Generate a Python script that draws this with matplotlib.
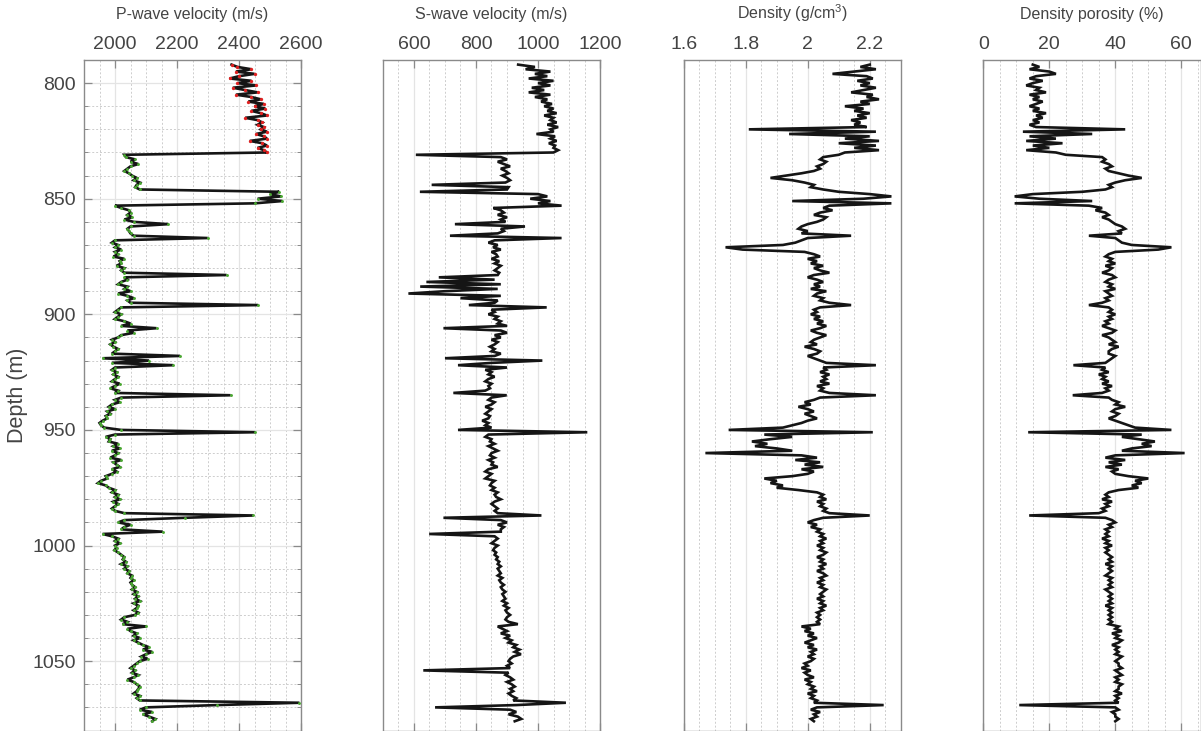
import numpy as np
import matplotlib
matplotlib.use("Agg")
import matplotlib.pyplot as plt
from matplotlib.ticker import MultipleLocator, FixedLocator, FuncFormatter

plt.rcParams['font.family'] = ['Liberation Sans', 'DejaVu Sans']
plt.rcParams['mathtext.default'] = 'regular'

# Well-log samples, one every metre from 792 m to 1076 m
depth = np.arange(792, 1077)

vp = [
    2376, 2395, 2440, 2390, 2450, 2400, 2370, 2440, 2395, 2455,
    2380, 2420, 2460, 2390, 2440, 2470, 2430, 2480, 2450, 2485,
    2440, 2470, 2490, 2420, 2460, 2475, 2460, 2480, 2470, 2490,
    2455, 2480, 2490, 2435, 2475, 2490, 2460, 2480, 2490, 2030,
    2035, 2065, 2050, 2075, 2050, 2040, 2030, 2045, 2055, 2070,
    2060, 2080, 2070, 2065, 2080, 2530, 2500, 2535, 2460, 2540,
    2450, 2000, 2020, 2045, 2050, 2040, 2055, 2030, 2060, 2172,
    2050, 2040, 2045, 2050, 2060, 2299, 2000, 1990, 2010, 2000,
    2020, 2000, 2010, 1995, 2030, 2015, 2020, 2005, 2030, 2020,
    2030, 2360, 2030, 2040, 2020, 2010, 2040, 2030, 2050, 2010,
    2040, 2060, 2040, 2050, 2462, 2020, 2010, 2000, 2020, 2010,
    2000, 2030, 2050, 2020, 2134, 2040, 2060, 2020, 2010, 1990,
    2000, 1985, 1995, 2010, 2000, 1990, 2210, 1960, 2110, 1990,
    2188, 2000, 1990, 2005, 1995, 2010, 2000, 1990, 2015, 2000,
    1985, 2010, 2000, 2373, 2020, 2000, 2015, 1990, 1980, 2000,
    1975, 1985, 1970, 1975, 1960, 1950, 1955, 1965, 2020, 2452,
    2000, 1970, 1985, 1980, 2010, 1995, 2015, 1990, 2010, 2000,
    1985, 2020, 1995, 2005, 2015, 1990, 2005, 1990, 1970, 1975,
    1955, 1945, 1970, 1980, 2000, 1990, 2010, 2000, 2015, 1995,
    2010, 2000, 1990, 2000, 2030, 2446, 2226, 2030, 2010, 2050,
    2030, 2020, 2154, 1960, 1990, 2010, 2000, 2015, 2000, 2005,
    1998, 2010, 2020, 2030, 2025, 2035, 2020, 2040, 2030, 2045,
    2040, 2055, 2050, 2060, 2050, 2055, 2065, 2055, 2070, 2060,
    2075, 2065, 2080, 2060, 2075, 2070, 2060, 2075, 2065, 2030,
    2020, 2040, 2025, 2100, 2040, 2050, 2070, 2060, 2080, 2060,
    2075, 2090, 2110, 2090, 2120, 2100, 2085, 2105, 2080, 2070,
    2060, 2050, 2065, 2055, 2075, 2060, 2040, 2060, 2070, 2080,
    2075, 2070, 2060, 2080, 2070, 2080, 2595, 2330, 2100, 2080,
    2120, 2090, 2110, 2130, 2120,
]

vs = [
    936, 990, 960, 1040, 990, 1030, 970, 1050, 1000, 1040,
    980, 1020, 970, 1040, 990, 1030, 1010, 1045, 1020, 1050,
    1030, 1060, 1020, 1050, 1040, 1060, 1030, 1065, 1040, 1050,
    995, 1055, 1040, 1060, 1035, 1055, 1050, 1065, 1050, 606,
    880, 900, 870, 890, 910, 880, 895, 905, 885, 900,
    910, 895, 657, 905, 900, 619, 1000, 1030, 975, 1040,
    1000, 1076, 856, 880, 890, 870, 900, 880, 895, 732,
    958, 880, 890, 870, 716, 1076, 860, 840, 870, 855,
    880, 850, 865, 870, 850, 875, 860, 880, 870, 860,
    875, 870, 680, 860, 640, 880, 620, 870, 700, 582,
    880, 750, 870, 860, 777, 1028, 850, 860, 840, 870,
    860, 880, 870, 900, 695, 880, 900, 860, 880, 850,
    870, 860, 845, 860, 850, 880, 860, 700, 1014, 850,
    742, 900, 830, 850, 840, 860, 840, 830, 850, 840,
    845, 830, 727, 899, 850, 840, 860, 850, 830, 850,
    840, 830, 845, 840, 820, 840, 830, 850, 742, 1159,
    840, 830, 850, 845, 860, 840, 855, 870, 850, 845,
    860, 840, 855, 850, 870, 840, 830, 850, 840, 830,
    860, 850, 845, 860, 850, 870, 860, 865, 880, 860,
    850, 860, 870, 860, 870, 1011, 695, 880, 900, 870,
    890, 880, 880, 649, 860, 870, 860, 850, 870, 860,
    855, 865, 860, 870, 865, 875, 870, 880, 870, 875,
    880, 870, 885, 875, 880, 890, 880, 885, 895, 885,
    890, 895, 885, 900, 890, 905, 895, 900, 910, 900,
    895, 905, 935, 870, 885, 900, 880, 910, 895, 915,
    905, 930, 920, 940, 925, 945, 920, 910, 905, 915,
    900, 910, 630, 905, 895, 910, 920, 900, 915, 925,
    910, 920, 905, 915, 930, 920, 1090, 930, 668, 910,
    930, 905, 935, 946, 925,
]

rho = [
    2.20, 2.17, 2.22, 2.15, 2.08, 2.19, 2.21, 2.16, 2.20, 2.17,
    2.22, 2.18, 2.14, 2.21, 2.19, 2.23, 2.17, 2.20, 2.12, 2.18,
    2.15, 2.20, 2.16, 2.19, 2.14, 2.17, 2.15, 2.19, 1.81, 2.22,
    1.94, 2.20, 2.12, 2.23, 2.10, 2.22, 2.15, 2.23, 2.12, 2.10,
    2.05, 2.04, 2.06, 2.05, 2.03, 2.04, 2.02, 1.98, 1.93, 1.88,
    1.95, 1.99, 2.02, 2.01, 2.05, 2.10, 2.20, 2.27, 2.18, 1.95,
    2.27, 2.07, 2.05, 2.08, 2.04, 2.02, 2.06, 2.05, 2.03, 2.00,
    1.98, 1.97, 2.00, 1.98, 2.14, 2.00, 1.98, 1.96, 1.92, 1.735,
    1.79, 1.99, 2.02, 2.04, 2.00, 2.03, 2.01, 2.05, 2.02, 2.04,
    2.07, 2.02, 2.00, 2.03, 2.05, 2.02, 2.04, 2.01, 2.06, 2.03,
    2.02, 2.05, 2.04, 2.07, 2.14, 2.04, 2.02, 2.03, 2.01, 2.04,
    2.02, 2.05, 2.03, 2.06, 2.04, 2.01, 2.03, 2.06, 2.04, 2.02,
    2.01, 2.03, 1.99, 2.02, 2.04, 2.03, 2.00, 2.02, 2.04, 2.06,
    2.22, 2.05, 2.06, 2.04, 2.07, 2.05, 2.06, 2.04, 2.07, 2.03,
    2.05, 2.04, 2.07, 2.22, 2.04, 2.02, 1.99, 2.01, 1.97, 2.00,
    2.02, 1.99, 2.01, 2.03, 2.00, 1.98, 1.95, 1.92, 1.745, 2.21,
    1.86, 1.95, 1.88, 1.82, 1.87, 1.83, 1.90, 1.95, 1.67, 1.98,
    2.03, 1.96, 2.04, 1.99, 2.05, 1.98, 2.02, 2.00, 1.95, 1.86,
    1.90, 1.88, 1.92, 1.90, 1.97, 2.03, 2.05, 2.04, 2.06, 2.03,
    2.05, 2.04, 2.06, 2.05, 2.07, 2.20, 2.05, 2.02, 2.00, 2.03,
    2.01, 2.04, 2.03, 2.05, 2.04, 2.06, 2.04, 2.05, 2.03, 2.05,
    2.04, 2.06, 2.05, 2.03, 2.05, 2.04, 2.06, 2.04, 2.05, 2.03,
    2.05, 2.06, 2.04, 2.05, 2.03, 2.05, 2.04, 2.06, 2.05, 2.04,
    2.05, 2.03, 2.05, 2.04, 2.06, 2.04, 2.05, 2.03, 2.04, 2.03,
    2.04, 2.03, 2.04, 1.98, 2.01, 1.99, 2.02, 2.00, 2.03, 2.01,
    1.99, 2.02, 2.00, 2.03, 2.01, 2.02, 2.00, 2.02, 2.01, 1.99,
    2.00, 1.98, 2.01, 1.99, 2.00, 2.02, 1.99, 2.01, 2.00, 2.02,
    2.01, 2.03, 2.00, 2.02, 2.01, 2.03, 2.02, 2.245, 2.03, 2.01,
    2.04, 2.02, 2.03, 2.01, 2.02,
]

phi = [
    15, 17, 14, 20, 22, 16, 14, 18, 15, 13,
    17, 16, 19, 14, 17, 15, 18, 16, 14, 17,
    15, 19, 16, 18, 15, 17, 14, 16, 43, 12,
    33, 14, 22, 13, 24, 15, 20, 13, 22, 25,
    36, 37, 36, 38, 39, 37, 38, 41, 44, 48,
    43, 40, 38, 39, 37, 30, 15, 9.5, 17, 33,
    9.5, 32, 36, 34, 37, 38, 36, 38, 39, 40,
    42, 43, 41, 42, 32, 40, 41, 42, 45, 57,
    53, 40, 38, 37, 39, 38, 40, 37, 39, 38,
    36, 39, 40, 38, 37, 39, 38, 40, 37, 38,
    39, 37, 38, 36, 32, 38, 39, 38, 40, 38,
    39, 37, 38, 36, 38, 40, 39, 36, 38, 39,
    40, 38, 41, 39, 38, 38, 40, 39, 38, 37,
    27.3, 37, 36, 38, 35, 37, 36, 38, 36, 39,
    37, 38, 36, 27.1, 38, 39, 41, 40, 43, 40,
    39, 41, 40, 38, 40, 42, 44, 46, 57, 13.6,
    48, 42, 47, 52, 48, 51, 45, 42, 61, 40,
    37, 43, 38, 42, 37, 41, 39, 40, 44, 50,
    46, 48, 45, 47, 41, 38, 37, 38, 36, 39,
    37, 38, 36, 37, 35, 13.9, 37, 39, 40, 38,
    39, 37, 38, 37, 38, 36, 38, 37, 39, 37,
    38, 37, 38, 39, 38, 39, 37, 39, 38, 39,
    38, 37, 39, 38, 39, 38, 39, 37, 38, 39,
    38, 39, 38, 39, 37, 39, 38, 39, 38, 39,
    38, 39, 38, 41, 40, 42, 39, 41, 40, 42,
    41, 39, 41, 40, 41, 40, 42, 41, 40, 41,
    41, 42, 40, 41, 42, 40, 41, 40, 42, 41,
    41, 40, 42, 40, 41, 40, 41, 10.9, 40, 41,
    39, 40, 40, 41, 40,
]

# Depth of the top interval picked with red markers on the P-wave log
upper_interval_base = 830

titles = ["P-wave velocity (m/s)", "S-wave velocity (m/s)",
          "Density (g/cm$^{3}$)", "Density porosity (%)"]
xlims = [(1900, 2600), (500, 1200), (1.6, 2.3), (0, 66)]
xticks = [[2000, 2200, 2400, 2600], [600, 800, 1000, 1200],
          [1.6, 1.8, 2.0, 2.2], [0, 20, 40, 60]]
xminor = [50, 50, 0.05, 5]
ylim = (1080, 790)
yticks = [800, 850, 900, 950, 1000, 1050]

W, H = 1201, 731
fig = plt.figure(figsize=(W / 100, H / 100), dpi=100)

lefts = [84.0, 383.0, 683.7, 983.3]
rights = [301.0, 600.0, 900.7, 1201.1]
top_px, bottom_px = 60.0, 730.5

spine_col = "#8a8a8a"
text_col = "#444444"
curve_col = "#151515"

series = [vp, vs, rho, phi]
for i in range(4):
    l, r = lefts[i], rights[i]
    ax = fig.add_axes([l / W, 1 - bottom_px / H, (r - l) / W, (bottom_px - top_px) / H])
    ax.set_xlim(*xlims[i])
    ax.set_ylim(*ylim)

    ax.plot(series[i], depth, color=curve_col, lw=1.9, solid_joinstyle="miter", zorder=3)
    if i == 0:
        d = np.asarray(depth)
        v = np.asarray(vp, dtype=float)
        up = d <= upper_interval_base
        ax.plot(v[up], d[up], ls="none", marker="o", ms=2.4, mew=0,
                color="#e02020", zorder=4)
        ax.plot(v[~up], d[~up], ls="none", marker="o", ms=2.1, mew=0,
                color="#4aa832", zorder=4)

    ax.xaxis.set_major_locator(FixedLocator(xticks[i]))
    ax.xaxis.set_minor_locator(MultipleLocator(xminor[i]))
    ax.xaxis.set_major_formatter(FuncFormatter(lambda x, p: "%g" % x))
    ax.xaxis.set_ticks_position("both")
    ax.xaxis.set_label_position("top")
    ax.tick_params(axis="x", which="major", direction="in", length=6, width=0.9,
                   color=spine_col, labeltop=True, labelbottom=False,
                   labelsize=14, labelcolor=text_col, pad=5)
    ax.tick_params(axis="x", which="minor", length=0)
    ax.set_xlabel(titles[i], fontsize=11.5, color=text_col, labelpad=12.5)

    ax.grid(True, axis="x", which="major", color="#e4e4e4", lw=0.9, ls="-", zorder=0)
    ax.grid(True, axis="x", which="minor", color="#cdcdcd", lw=0.7, ls=(0, (2, 2)), zorder=0)

    if i == 0:
        ax.yaxis.set_major_locator(FixedLocator(yticks))
        ax.yaxis.set_minor_locator(MultipleLocator(10))
        ax.yaxis.set_ticks_position("both")
        ax.tick_params(axis="y", which="major", direction="in", length=6, width=0.9,
                       color=spine_col, labelsize=14, labelcolor=text_col, pad=6)
        ax.tick_params(axis="y", which="minor", direction="in", length=3, width=0.7,
                       color=spine_col)
        ax.set_ylabel("Depth (m)", fontsize=15.5, color=text_col, labelpad=3)
        ax.grid(True, axis="y", which="major", color="#e4e4e4", lw=0.9, ls="-", zorder=0)
        ax.grid(True, axis="y", which="minor", color="#cdcdcd", lw=0.7, ls=(0, (2, 2)), zorder=0)
    else:
        ax.yaxis.set_major_locator(FixedLocator([]))
        ax.tick_params(axis="y", which="both", length=0, labelleft=False)

    for s in ax.spines.values():
        s.set_color(spine_col)
        s.set_linewidth(1.0)
    ax.set_axisbelow(True)

fig.savefig("out.png", dpi=100)
